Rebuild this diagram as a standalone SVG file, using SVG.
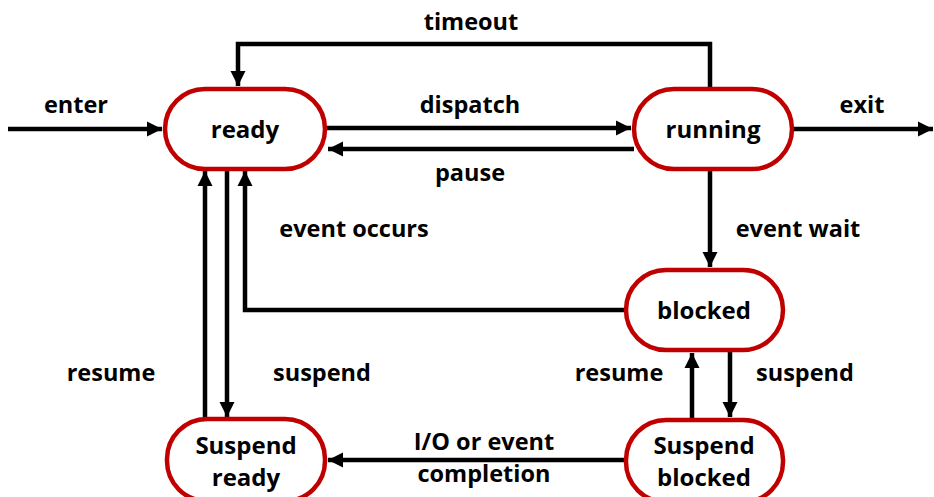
<svg xmlns="http://www.w3.org/2000/svg" width="934" height="497" viewBox="0 0 934 497">
<defs>
<marker id="ah" viewBox="0 0 10 10" refX="10" refY="5" markerWidth="3.4" markerHeight="3.4" orient="auto" markerUnits="strokeWidth">
<path d="M0,0 L10,5 L0,10 z" fill="#000"/>
</marker>
</defs>
<style>
.n rect{fill:#fff;stroke:#c00000;stroke-width:4.5}
.n text{font-family:"Open Sans",Lato,sans-serif;font-weight:bold;font-size:24px;fill:#000;text-anchor:middle}
.e path{fill:none;stroke:#000;stroke-width:4.5;marker-end:url(#ah)}
.l{font-family:"Open Sans",Lato,sans-serif;font-weight:bold;font-size:23.5px;fill:#000;text-anchor:middle}
</style>
<rect width="934" height="497" fill="#fff"/>
<g id="connectors" class="e">
<path d="M8,129 H162"/>
<path d="M327,128 H631"/>
<path d="M634,149 H328"/>
<path d="M794,129 H933"/>
<path d="M710,89 V44 H238 V86"/>
<path d="M710,170 V267"/>
<path d="M624,310 H245 V171"/>
<path d="M205,418 V171"/>
<path d="M227,170 V417"/>
<path d="M692,418 V353"/>
<path d="M730,352 V417"/>
<path d="M624,460 H328"/>
</g>
<g id="labels">
<text class="l" x="76" y="113">enter</text>
<text class="l" x="470" y="113">dispatch</text>
<text class="l" x="470" y="181">pause</text>
<text class="l" x="862" y="113">exit</text>
<text class="l" x="471" y="30">timeout</text>
<text class="l" x="354" y="237">event occurs</text>
<text class="l" x="798" y="237">event wait</text>
<text class="l" x="111" y="381">resume</text>
<text class="l" x="322" y="381">suspend</text>
<text class="l" x="619" y="381">resume</text>
<text class="l" x="805" y="381">suspend</text>
<text class="l" x="484" y="450">I/O or event</text>
<text class="l" x="484" y="482">completion</text>
</g>
<g id="ready" class="n">
<rect x="165" y="89" width="160" height="80" rx="40"/>
<text x="245" y="138">ready</text>
</g>
<g id="running" class="n">
<rect x="634" y="89" width="158" height="80" rx="40"/>
<text x="713" y="138">running</text>
</g>
<g id="blocked" class="n">
<rect x="626" y="270" width="157" height="80" rx="40"/>
<text x="704" y="319">blocked</text>
</g>
<g id="suspend-ready" class="n">
<rect x="167" y="419" width="158" height="82" rx="40"/>
<text x="246" y="454">Suspend</text>
<text x="246" y="486">ready</text>
</g>
<g id="suspend-blocked" class="n">
<rect x="626" y="420" width="157" height="82" rx="40"/>
<text x="704" y="454">Suspend</text>
<text x="704" y="486">blocked</text>
</g>
</svg>
